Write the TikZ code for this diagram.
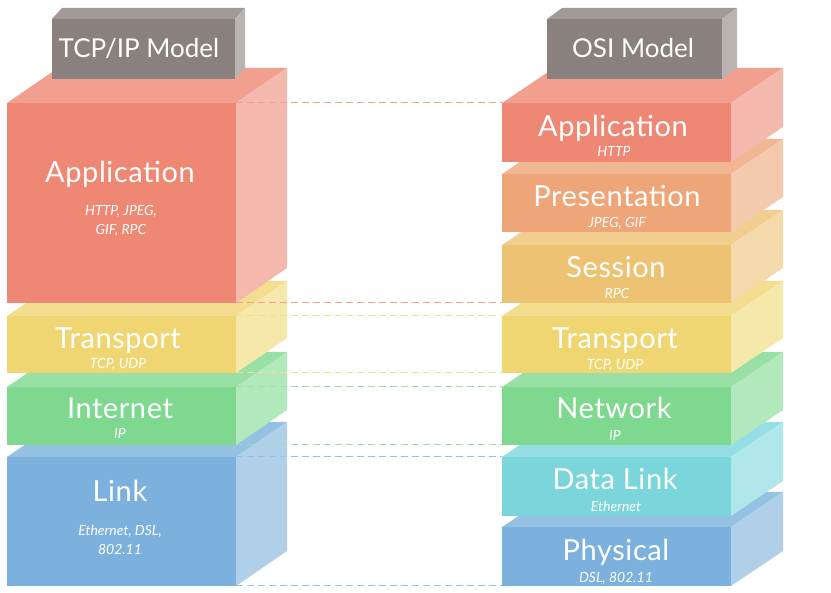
\documentclass[tikz,border=0pt]{standalone}
\usepackage{fontspec}
\setmainfont{Lato}

\definecolor{appcol}{HTML}{EE8874}
\definecolor{precol}{HTML}{EEA577}
\definecolor{sescol}{HTML}{EDC273}
\definecolor{trncol}{HTML}{F0D673}
\definecolor{netcol}{HTML}{7ED88F}
\definecolor{dlkcol}{HTML}{7BD6DC}
\definecolor{phycol}{HTML}{7BB1DC}
\definecolor{hdrcol}{HTML}{8A807E}

% name, x, top, width, height, colour, depth x, depth y
\newcommand{\layerbox}[8]{%
  \node[face,fill=#6,minimum width=#4pt,minimum height=#5pt] (#1) at (#2,#3) {};
  \fill[#6!80!white] (#1.north west) -- ++(#7,-#8) -- ++(#4,0) -- (#1.north east) -- cycle;
  \fill[#6!60!white] (#1.north east) -- ++(#7,-#8) -- ++(0,#5) -- (#1.south east) -- cycle;
}

\begin{document}
\begin{tikzpicture}[x=1pt,y=-1pt,
    face/.style={rectangle,draw=none,inner sep=0,outer sep=0,anchor=north west},
    lbl/.style={text=white,anchor=base,inner sep=0,font=\fontsize{29}{31}\selectfont\addfontfeatures{LetterSpace=2}},
    sub/.style={text=white,anchor=base,inner sep=0,font=\fontsize{14}{16}\selectfont\itshape},
    hdr/.style={text=white,anchor=base,inner sep=0,font=\fontsize{26}{28}\selectfont},
    dashln/.style={dash pattern=on 7pt off 4pt,line width=1pt}]
  \useasboundingbox (0,0) rectangle (831,593);

  % TCP/IP stack
  \layerbox{tlnk}{7}{457}{229}{129}{phycol}{51}{35}
  \layerbox{tnet}{7}{387}{229}{58}{netcol}{51}{35}
  \layerbox{ttrn}{7}{316}{229}{57}{trncol}{51}{35}
  \layerbox{tapp}{7}{103}{229}{200}{appcol}{51}{35}
  \layerbox{thdr}{52}{19}{183}{60}{hdrcol}{10}{11}

  % OSI stack
  \layerbox{ophy}{502}{527}{229}{59}{phycol}{52}{35}
  \layerbox{odlk}{502}{457}{229}{59}{dlkcol}{52}{35}
  \layerbox{onet}{502}{387}{229}{58}{netcol}{52}{35}
  \layerbox{otrn}{502}{316}{229}{57}{trncol}{52}{35}
  \layerbox{oses}{502}{245}{229}{58}{sescol}{52}{35}
  \layerbox{opre}{502}{174}{229}{58}{precol}{52}{35}
  \layerbox{oapp}{502}{103}{229}{59}{appcol}{52}{35}
  \layerbox{ohdr}{547}{19}{175}{60}{hdrcol}{15}{11}

  \node[hdr] (thdrtxt) at (139,58) {TCP/IP Model};
  \node[hdr] (ohdrtxt) at (633,58) {OSI Model};

  \node[lbl] (tapplbl) at (120,183) {Application};
  \node[sub] (tappsub1) at (121,216) {HTTP, JPEG,};
  \node[sub] (tappsub2) at (121,235) {GIF, RPC};
  \node[lbl] (ttrnlbl) at (118,349) {Transport};
  \node[sub] (ttrnsub) at (118,369) {TCP, UDP};
  \node[lbl] (tnetlbl) at (120,419) {Internet};
  \node[sub] (tnetsub) at (120,439) {IP};
  \node[lbl] (tlnklbl) at (120,502) {Link};
  \node[sub] (tlnksub1) at (120,536) {Ethernet, DSL,};
  \node[sub] (tlnksub2) at (120,555) {802.11};

  \node[lbl] (oapplbl) at (613,137) {Application};
  \node[sub] (oappsub) at (614,157) {HTTP};
  \node[lbl] (oprelbl) at (617,207) {Presentation};
  \node[sub] (opresub) at (617,228) {JPEG, GIF};
  \node[lbl] (oseslbl) at (616,278) {Session};
  \node[sub] (osessub) at (617,299) {RPC};
  \node[lbl] (otrnlbl) at (615,349) {Transport};
  \node[sub] (otrnsub) at (615,370) {TCP, UDP};
  \node[lbl] (onetlbl) at (614,419) {Network};
  \node[sub] (onetsub) at (615,441) {IP};
  \node[lbl] (odlklbl) at (615,490) {Data Link};
  \node[sub] (odlksub) at (616,512) {Ethernet};
  \node[lbl] (ophylbl) at (616,561) {Physical};
  \node[sub] (ophysub) at (616,583) {DSL, 802.11};

  % dashed guides between the stacks
  \draw[dashln,appcol!80!white] (tapp.north east) -- (oapp.north west);
  \draw[dashln,appcol!80!white] (tapp.south east) -- (oses.south west);
  \draw[dashln,trncol!80!white] (ttrn.north east) -- (otrn.north west);
  \draw[dashln,trncol!80!white] (ttrn.south east) -- (otrn.south west);
  \draw[dashln,netcol!80!white] (tnet.north east) -- (onet.north west);
  \draw[dashln,netcol!80!white] (tnet.south east) -- (onet.south west);
  \draw[dashln,phycol!80!white] (tlnk.north east) -- (odlk.north west);
  \draw[dashln,phycol!80!white] (tlnk.south east) -- (ophy.south west);
\end{tikzpicture}
\end{document}
